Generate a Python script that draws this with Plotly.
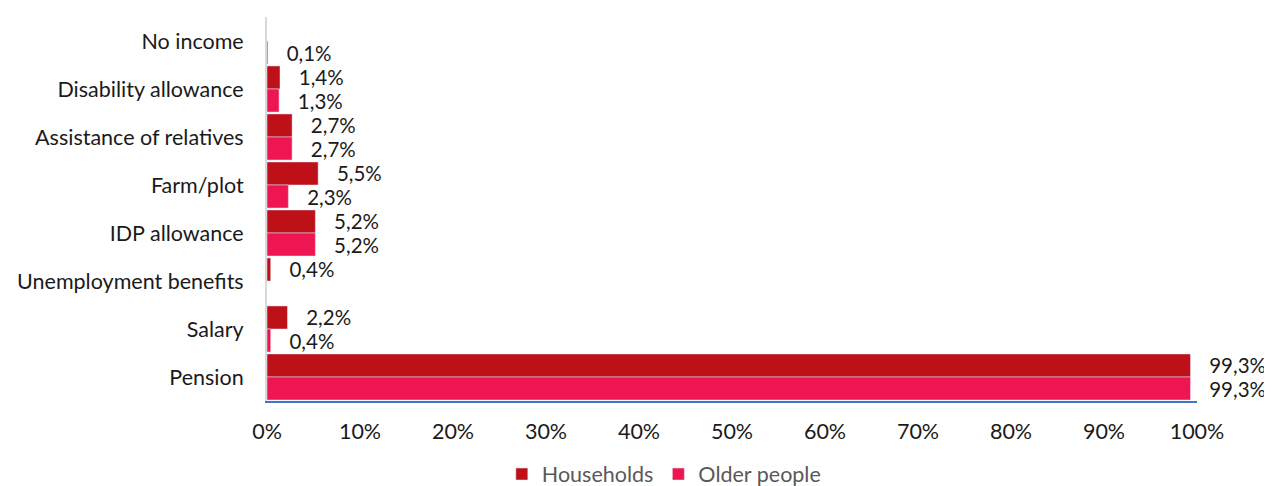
import plotly.graph_objects as go

categories = ["No income", "Disability allowance", "Assistance of relatives", "Farm/plot",
              "IDP allowance", "Unemployment benefits", "Salary", "Pension"]
households = [None, 1.4, 2.7, 5.5, 5.2, 0.4, 2.2, 99.3]
older_people = [0.1, 1.3, 2.7, 2.3, 5.2, None, 0.4, 99.3]
x_ticks = [0, 10, 20, 30, 40, 50, 60, 70, 80, 90, 100]
x_tick_text = [f"{t}%" for t in x_ticks]

FONT = "Lato"
FS = 21.5
LFS = 20.5
PAD = "\u00a0\u00a0\u00a0"


def labels(vals):
    return ["" if v is None else PAD + f"{v:.1f}".replace(".", ",") + "%" for v in vals]


fig = go.Figure()
fig.add_trace(go.Bar(
    y=categories, x=households, orientation="h", name="Households",
    marker=dict(color="#BE1018"),
    text=labels(households), textposition="outside", constraintext="none",
    textfont=dict(family=FONT, size=LFS, color="#1a1a1a"), cliponaxis=False,
))
fig.add_trace(go.Bar(
    y=categories, x=older_people, orientation="h", name="Older people",
    marker=dict(color="#EE1652"),
    text=labels(older_people), textposition="outside", constraintext="none",
    textfont=dict(family=FONT, size=LFS, color="#1a1a1a"), cliponaxis=False,
))

fig.update_layout(
    width=1264, height=478,
    margin=dict(l=259, r=75, t=9, b=85),
    barmode="group", bargap=0.04, bargroupgap=0,
    paper_bgcolor="white", plot_bgcolor="white",
    font=dict(family=FONT, size=FS, color="#1a1a1a"),
    showlegend=True,
    legend=dict(orientation="h", x=0.2525, xanchor="left", xref="paper",
                y=0.025, yanchor="middle", yref="container",
                bgcolor="rgba(0,0,0,0)",
                font=dict(family=FONT, size=FS, color="#595959"), itemwidth=30,
                traceorder="normal"),
    xaxis=dict(range=[0, 100], tickmode="array", tickvals=x_ticks, ticktext=x_tick_text,
               showgrid=False, zeroline=False, showline=True, linecolor="#4472C4", linewidth=2,
               ticks="outside", ticklen=10, tickcolor="rgba(0,0,0,0)",
               tickfont=dict(family=FONT, size=FS, color="#1a1a1a")),
    yaxis=dict(autorange="reversed", showgrid=False, zeroline=False, showline=True,
               linecolor="#D9D9D9", linewidth=2, ticks="outside", ticklen=17,
               tickcolor="rgba(0,0,0,0)",
               tickfont=dict(family=FONT, size=FS, color="#1a1a1a")),
)

fig.write_html("out.html")
